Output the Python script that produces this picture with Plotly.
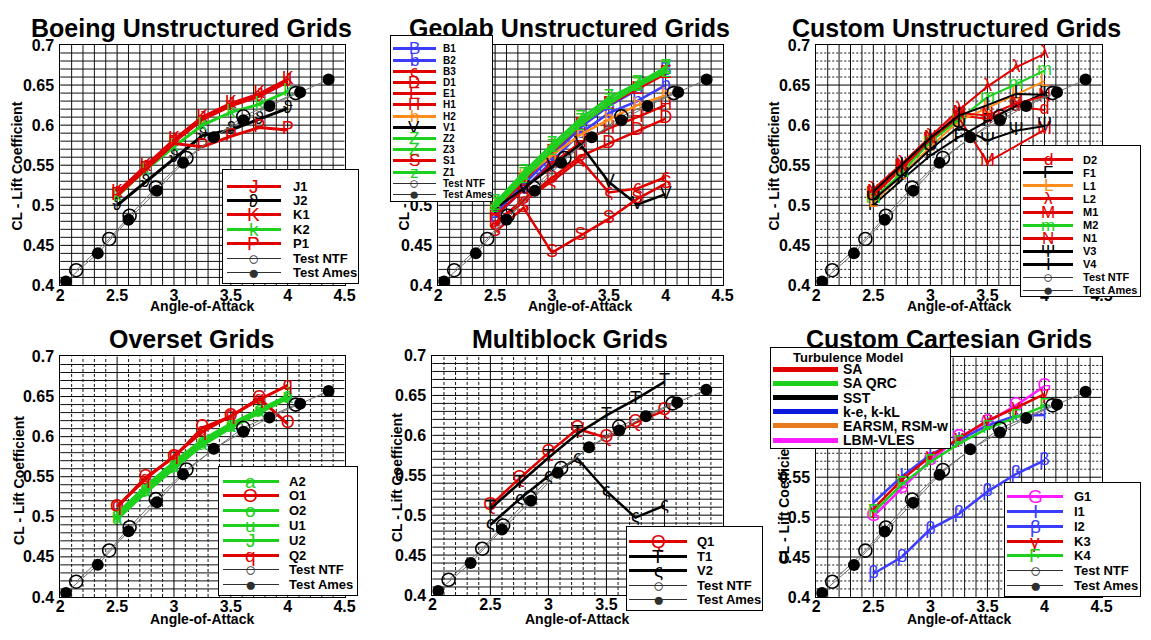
import plotly.graph_objects as go

W, H = 1151, 640
FONT = "Liberation Sans, Arial, sans-serif"

# Angle-of-attack sweep used by the CFD submissions
AOA = [2.5, 2.75, 3.0, 3.25, 3.5, 3.75, 4.0]
AOA_M1 = [2.5, 2.75, 3.0, 3.25, 3.5, 4.0]

# Wind-tunnel data
NTF_AOA = [2.14, 2.43, 2.61, 2.84, 3.11, 3.61, 4.07]
NTF_CL = [0.419, 0.458, 0.487, 0.522, 0.559, 0.611, 0.640]
AMES_AOA = [2.05, 2.33, 2.60, 2.85, 3.08, 3.35, 3.61, 3.84, 4.11, 4.36]
AMES_CL = [0.405, 0.440, 0.482, 0.518, 0.553, 0.585, 0.606, 0.624, 0.641, 0.657]

# Boeing unstructured grids
J1_CL = [0.513, 0.546, 0.579, 0.607, 0.624, 0.636, 0.654]
J2_CL = [0.500, 0.529, 0.559, 0.587, 0.594, 0.607, 0.621]
K1_CL = [0.516, 0.549, 0.582, 0.610, 0.627, 0.639, 0.657]
K2_CL = [0.511, 0.544, 0.573, 0.600, 0.616, 0.626, 0.642]
P1_CL = [0.512, 0.545, 0.577, 0.573, 0.586, 0.597, 0.594]

# Geolab unstructured grids
B1_CL = [0.490, 0.526, 0.562, 0.597, 0.624, 0.644, 0.668]
B2_CL = [0.485, 0.520, 0.555, 0.590, 0.615, 0.630, 0.650]
B3_CL = [0.475, 0.505, 0.530, 0.557, 0.516, 0.521, 0.535]
D1_CL = [0.478, 0.507, 0.534, 0.561, 0.577, 0.593, 0.608]
E1_CL = [0.494, 0.530, 0.566, 0.600, 0.626, 0.645, 0.664]
H1_CL = [0.487, 0.520, 0.552, 0.578, 0.596, 0.610, 0.625]
H2_CL = [0.503, 0.535, 0.562, 0.588, 0.607, 0.625, 0.637]
V1_CL = [0.496, 0.521, 0.548, 0.576, 0.529, 0.501, 0.514]
Z2_CL = [0.503, 0.541, 0.576, 0.608, 0.634, 0.652, 0.672]
Z3_CL = [0.500, 0.537, 0.572, 0.604, 0.630, 0.650, 0.669]
S1_CL = [0.467, 0.497, 0.441, 0.462, 0.483, 0.508, 0.527]
Z1_CL = [0.497, 0.533, 0.568, 0.600, 0.626, 0.648, 0.666]

# Custom unstructured grids
D2_CL = [0.512, 0.546, 0.580, 0.612, 0.608, 0.623, 0.619]
F1_CL = [0.500, 0.532, 0.562, 0.585, 0.605, 0.624, 0.640]
L1_CL = [0.503, 0.538, 0.573, 0.605, 0.621, 0.638, 0.655]
L2_CL = [0.520, 0.552, 0.586, 0.619, 0.648, 0.672, 0.689]
M1_CL = [0.514, 0.547, 0.581, 0.609, 0.554, 0.594]
M2_CL = [0.508, 0.541, 0.579, 0.607, 0.635, 0.651, 0.668]
N1_CL = [0.516, 0.549, 0.583, 0.615, 0.612, 0.627, 0.636]
V3_CL = [0.507, 0.537, 0.570, 0.598, 0.581, 0.593, 0.599]
V4_CL = [0.517, 0.550, 0.584, 0.612, 0.625, 0.639, 0.638]

# Overset grids
A2_CL = [0.497, 0.530, 0.560, 0.589, 0.611, 0.630, 0.648]
O1_CL = [0.512, 0.549, 0.574, 0.611, 0.625, 0.648, 0.616]
O2_CL = [0.502, 0.535, 0.565, 0.593, 0.614, 0.632, 0.650]
U1_CL = [0.499, 0.532, 0.562, 0.591, 0.612, 0.631, 0.649]
U2_CL = [0.504, 0.538, 0.568, 0.596, 0.616, 0.634, 0.651]
Q2_CL = [0.513, 0.547, 0.576, 0.606, 0.626, 0.646, 0.664]

# Multiblock grids
Q1_CL = [0.512, 0.546, 0.578, 0.608, 0.597, 0.616, 0.631]
T1_CL = [0.508, 0.540, 0.572, 0.602, 0.625, 0.645, 0.667]
V2_CL = [0.488, 0.520, 0.549, 0.571, 0.530, 0.497, 0.512]

# Custom Cartesian grids
G1_CL = [0.501, 0.536, 0.571, 0.600, 0.619, 0.640, 0.664]
I1_CL = [0.518, 0.551, 0.578, 0.596, 0.615, 0.627, 0.628]
I2_CL = [0.429, 0.450, 0.485, 0.504, 0.532, 0.554, 0.571]
K3_CL = [0.510, 0.547, 0.576, 0.598, 0.621, 0.637, 0.654]
K4_CL = [0.506, 0.541, 0.569, 0.592, 0.611, 0.625, 0.639]

X_TICKS = [2, 2.5, 3, 3.5, 4, 4.5]
X_TICK_TEXT = ["2", "2.5", "3", "3.5", "4", "4.5"]
Y_TICKS = [0.4, 0.45, 0.5, 0.55, 0.6, 0.65, 0.7]
Y_TICK_TEXT = ["0.4", "0.45", "0.5", "0.55", "0.6", "0.65", "0.7"]

TURB_MODELS = ["SA", "SA QRC", "SST", "k-e, k-kL", "EARSM, RSM-w", "LBM-VLES"]

RED = "#e00000"
GREEN = "#1ed01e"
BLUE = "#3c3cff"
ORANGE = "#ff8c1a"
MAGENTA = "#ff1aff"
BLACK = "#000000"
TURB_COLORS = [RED, GREEN, BLACK, "#0a1adc", "#e87a1e", MAGENTA]

TESTS = [("Test NTF", "○"), ("Test Ames", "●")]

panels = [
    dict(title="Boeing Unstructured Grids", title_xy=(190, 21), dom=(57, 38, 345, 285),
         ytitle=(13, 162), xtitle_y=306, lw=3,
         grid=("solid", "solid", "solid", "solid"),
         series=[("J1", AOA, J1_CL, RED, "J"), ("J2", AOA, J2_CL, BLACK, "ϑ"),
                 ("K1", AOA, K1_CL, RED, "K"), ("K2", AOA, K2_CL, GREEN, "k"),
                 ("P1", AOA, P1_CL, RED, "P")],
         leg=dict(box=(222, 167, 359, 282), y0=183, dy=14.8, line=(226, 280), lab=291, fs=13, gs=19, lw=3)),
    dict(title="Geolab Unstructured Grids", title_xy=(573, 21), dom=(440, 38, 728, 285),
         ytitle=(405, 162), xtitle_y=306, lw=2.5,
         grid=("solid", "solid", "solid", "solid"),
         series=[("B1", AOA, B1_CL, BLUE, "B"), ("B2", AOA, B2_CL, BLUE, "b"),
                 ("B3", AOA, B3_CL, RED, "ς"), ("D1", AOA, D1_CL, RED, "D"),
                 ("E1", AOA, E1_CL, RED, "E"), ("H1", AOA, H1_CL, RED, "H"),
                 ("H2", AOA, H2_CL, ORANGE, "h"), ("V1", AOA, V1_CL, BLACK, "V"),
                 ("Z2", AOA, Z2_CL, GREEN, "Z"), ("Z3", AOA, Z3_CL, GREEN, "Z"),
                 ("S1", AOA, S1_CL, RED, "S"), ("Z1", AOA, Z1_CL, GREEN, "z")],
         leg=dict(box=(392, 30, 495, 197), y0=42, dy=11.5, line=(394, 437), lab=443, fs=10, gs=17, lw=3)),
    dict(title="Custom Unstructured Grids", title_xy=(965, 21), dom=(823, 38, 1112, 285),
         ytitle=(780, 162), xtitle_y=306, lw=2,
         grid=("solid", "solid", "solid", "dot"),
         series=[("D2", AOA, D2_CL, RED, "d"), ("F1", AOA, F1_CL, BLACK, "F"),
                 ("L1", AOA, L1_CL, ORANGE, "L"), ("L2", AOA, L2_CL, RED, "λ"),
                 ("M1", AOA_M1, M1_CL, RED, "M"), ("M2", AOA, M2_CL, GREEN, "m"),
                 ("N1", AOA, N1_CL, RED, "N"), ("V3", AOA, V3_CL, BLACK, "Ψ"),
                 ("V4", AOA, V4_CL, BLACK, "I")],
         leg=dict(box=(1030, 143, 1151, 295), y0=156, dy=13.4, line=(1033, 1083), lab=1091, fs=11, gs=17, lw=2.5)),
    dict(title="Overset Grids", title_xy=(190, 340), dom=(57, 358, 345, 605),
         ytitle=(15, 485), xtitle_y=628, lw=3,
         grid=("solid", "dash", "solid", "solid"),
         series=[("A2", AOA, A2_CL, GREEN, "a"), ("O1", AOA, O1_CL, RED, "O"),
                 ("O2", AOA, O2_CL, GREEN, "o"), ("U1", AOA, U1_CL, GREEN, "u"),
                 ("U2", AOA, U2_CL, GREEN, "J"), ("Q2", AOA, Q2_CL, RED, "q")],
         leg=dict(box=(218, 472, 358, 602), y0=486, dy=15.2, line=(222, 278), lab=287, fs=13, gs=19, lw=3)),
    dict(title="Multiblock Grids", title_xy=(573, 340), dom=(434, 357, 728, 603),
         ytitle=(398, 482), xtitle_y=628, lw=2.5,
         grid=("solid", "dash", "solid", "solid"),
         series=[("Q1", AOA, Q1_CL, RED, "Q"), ("T1", AOA, T1_CL, BLACK, "T"),
                 ("V2", AOA, V2_CL, BLACK, "ς")],
         leg=dict(box=(631, 533, 768, 618), y0=548, dy=15, line=(634, 692), lab=700, fs=13, gs=19, lw=3)),
    dict(title="Custom Cartesian Grids", title_xy=(957, 340), dom=(823, 359, 1112, 605),
         ytitle=(790, 505), xtitle_y=628, lw=2.5,
         grid=("solid", "solid", "solid", "dot"),
         series=[("G1", AOA, G1_CL, MAGENTA, "G"), ("I1", AOA, I1_CL, BLUE, "I"),
                 ("I2", AOA, I2_CL, BLUE, "β"), ("K3", AOA, K3_CL, RED, "γ"),
                 ("K4", AOA, K4_CL, GREEN, "Ϝ")],
         leg=dict(box=(1014, 488, 1151, 603), y0=502, dy=15.2, line=(1017, 1073), lab=1082, fs=13, gs=19, lw=3)),
]

DASHES = {"solid": "solid", "dot": "2px,2px", "dash": "3px,2px"}


def text_ann(x, y, s, size, color="black", bold=False, xanchor="center", angle=0):
    return dict(x=x / W, y=1 - y / H, xref="paper", yref="paper", text=s, showarrow=False,
                xanchor=xanchor, yanchor="middle", textangle=angle,
                font=dict(family=FONT, size=size, color=color, weight="bold" if bold else "normal"))


def rect_ann(x0, y0, x1, y1, fill, border=None, bw=0):
    return dict(x=(x0 + x1) / 2 / W, y=1 - (y0 + y1) / 2 / H, xref="paper", yref="paper",
                text=" ", showarrow=False, xanchor="center", yanchor="middle",
                width=max(x1 - x0 - 2 * bw, 1), height=max(y1 - y0 - 2 * bw, 1),
                bgcolor=fill, bordercolor=border or fill, borderwidth=bw, borderpad=0,
                font=dict(size=1))


fig = go.Figure()
layout = dict(width=W, height=H, margin=dict(l=0, r=0, t=0, b=0),
              paper_bgcolor="white", plot_bgcolor="white", showlegend=False)
annotations = []
legend_anns = []
shapes = []

for i, p in enumerate(panels, start=1):
    sfx = "" if i == 1 else str(i)
    xref, yref = "x" + sfx, "y" + sfx
    x0, y0, x1, y1 = p["dom"]
    xg_major, xg_minor, yg_major, yg_minor = p["grid"]
    common = dict(ticks="", showline=True, linecolor="black", linewidth=1, mirror=True,
                  zeroline=False, showgrid=False,
                  tickfont=dict(family=FONT, size=16, color="black", weight="bold"))
    layout["xaxis" + sfx] = dict(
        domain=[x0 / W, x1 / W], range=[2, 4.5], anchor=yref,
        tickmode="array", tickvals=X_TICKS, ticktext=X_TICK_TEXT,
        ticklabelstandoff=-5, **common)
    layout["yaxis" + sfx] = dict(
        domain=[1 - y1 / H, 1 - y0 / H], range=[0.4, 0.7], anchor=xref,
        tickmode="array", tickvals=Y_TICKS, ticktext=Y_TICK_TEXT,
        ticklabelstandoff=2, **common)

    # grid: every 0.1 deg in alpha, every 0.01 in CL
    for k in range(1, 25):
        major = k % 5 == 0
        shapes.append(dict(type="line", xref=xref, yref=yref + " domain",
                           x0=2 + 0.1 * k, x1=2 + 0.1 * k, y0=0, y1=1, layer="below",
                           line=dict(color="#000000" if major else "#111111", width=1,
                                     dash=DASHES[xg_major if major else xg_minor])))
    for k in range(1, 30):
        major = k % 5 == 0
        shapes.append(dict(type="line", xref=xref + " domain", yref=yref,
                           x0=0, x1=1, y0=0.4 + 0.01 * k, y1=0.4 + 0.01 * k, layer="below",
                           line=dict(color="#000000" if major else "#111111", width=1,
                                     dash=DASHES[yg_major if major else yg_minor])))

    for name, xs, ys, color, glyph in p["series"]:
        fig.add_trace(go.Scatter(
            x=xs, y=ys, name=name, mode="lines+text", text=[glyph] * len(ys),
            textposition="middle center",
            textfont=dict(family=FONT, size=18, color=color),
            line=dict(color=color, width=p["lw"]),
            xaxis=xref, yaxis=yref))

    fig.add_trace(go.Scatter(
        x=NTF_AOA, y=NTF_CL, name="Test NTF", mode="lines+markers",
        line=dict(color="#707070", width=1),
        marker=dict(symbol="circle-open", size=13, color="black", line=dict(width=1.6)),
        xaxis=xref, yaxis=yref))
    fig.add_trace(go.Scatter(
        x=AMES_AOA, y=AMES_CL, name="Test Ames", mode="lines+markers",
        line=dict(color="#707070", width=1),
        marker=dict(symbol="circle", size=12, color="black"),
        xaxis=xref, yaxis=yref))

    # titles
    annotations.append(text_ann(p["ytitle"][0], p["ytitle"][1], "CL - Lift Coefficient", 14,
                                bold=True, angle=-90))
    annotations.append(text_ann((x0 + x1) / 2, p["xtitle_y"], "Angle-of-Attack", 14, bold=True))
    annotations.append(text_ann(p["title_xy"][0], p["title_xy"][1], p["title"], 25, bold=True))

    # legend box
    lg = p["leg"]
    bx0, by0, bx1, by1 = lg["box"]
    legend_anns.append(rect_ann(bx0, by0, bx1, by1, "white", "black", 1))
    entries = [(n, c, g, False) for n, _, _, c, g in p["series"]]
    entries += [(n, "#303030", g, True) for n, g in TESTS]
    lx0, lx1 = lg["line"]
    for k, (n, c, g, is_test) in enumerate(entries):
        yy = lg["y0"] + k * lg["dy"]
        th = 1 if is_test else lg["lw"]
        legend_anns.append(rect_ann(lx0, yy - th / 2, lx1, yy + th / 2, c))
        legend_anns.append(text_ann((lx0 + lx1) / 2, yy, g, lg["gs"], c))
        legend_anns.append(text_ann(lg["lab"], yy, n, lg["fs"], bold=True, xanchor="left"))

# turbulence model key in the Cartesian panel
legend_anns.append(rect_ann(777, 350, 958, 452, "white", "black", 1))
legend_anns.append(text_ann(855, 359, "Turbulence Model", 13, bold=True))
for k, (m, c) in enumerate(zip(TURB_MODELS, TURB_COLORS)):
    yy = 371 + k * 14.6
    legend_anns.append(rect_ann(780, yy - 2.5, 845, yy + 2.5, c))
    legend_anns.append(text_ann(848, yy, m, 14, bold=True, xanchor="left"))

layout["annotations"] = annotations + legend_anns
layout["shapes"] = shapes
fig.update_layout(**layout)
fig.write_html("out.html")
